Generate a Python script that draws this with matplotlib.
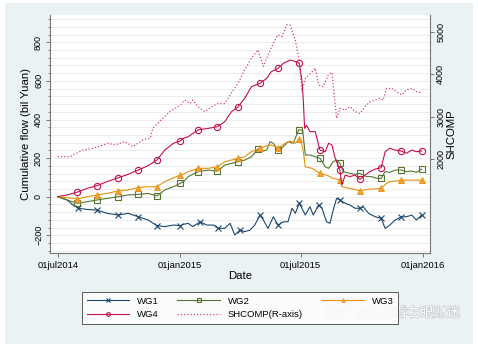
import numpy as np
import pandas as pd
import matplotlib
matplotlib.use('Agg')
import matplotlib.pyplot as plt
import matplotlib.patheffects as pe
from matplotlib.patches import Rectangle

plt.rcParams['font.family'] = ['Liberation Sans', 'DejaVu Sans']

start = pd.Timestamp('2014-07-01')

# days since 01jul2014
wg1_day = [0, 14, 23, 31, 44, 59, 74, 91, 106, 121, 136, 149, 161, 174, 184,
           189, 196, 203, 214, 224, 234, 241, 251, 259, 266, 274, 281, 289, 296, 304,
           309, 316, 324, 331, 339, 346, 352, 357, 363, 367, 372, 379, 384, 392, 397,
           404, 409, 414, 419, 424, 432, 439, 447, 454, 459, 467, 477, 486, 492, 499,
           507, 516, 524, 532, 539, 547]
wg1_val = [0, -17, -43, -60, -66, -69, -86, -95, -86, -104, -121, -150, -155, -147, -150,
           -143, -138, -155, -130, -147, -147, -164, -164, -138, -198, -173, -181, -173, -147, -95,
           -121, -164, -104, -147, -130, -130, -60, -86, -34, -60, -95, -52, -95, -43, -60,
           -130, -138, -69, -9, -17, -34, -43, -60, -60, -52, -86, -104, -112, -164, -147,
           -121, -104, -104, -95, -121, -95]

wg2_day = [0, 14, 29, 44, 59, 74, 91, 106, 121, 136, 149, 161, 174, 184, 189,
           196, 211, 226, 240, 251, 261, 271, 281, 291, 301, 309, 314, 319, 324, 331,
           339, 346, 354, 362, 368, 372, 379, 387, 394, 402, 407, 414, 419, 424, 429,
           439, 447, 454, 464, 472, 479, 486, 492, 499, 507, 516, 524, 532, 539, 547]
wg2_val = [0, -17, -34, -26, -17, -9, 0, 9, 12, 17, 4, 35, 52, 69, 78,
           104, 130, 138, 133, 164, 173, 181, 190, 207, 247, 237, 242, 285, 277, 242,
           259, 285, 277, 346, 346, 216, 216, 207, 199, 155, 147, 181, 190, 173, 130,
           121, 116, 121, 104, 104, 95, 95, 130, 126, 138, 138, 130, 133, 126, 143]

wg3_day = [0, 14, 29, 44, 59, 74, 91, 106, 121, 136, 149, 161, 174, 184, 189,
           196, 211, 226, 240, 251, 271, 281, 291, 304, 314, 321, 331, 342, 349, 357,
           363, 368, 372, 382, 394, 404, 414, 424, 427, 439, 454, 469, 486, 494, 499,
           516, 532, 547]
wg3_val = [0, -5, -12, 0, 9, 17, 30, 35, 47, 52, 52, 78, 98, 112, 116,
           130, 147, 147, 155, 181, 199, 207, 233, 251, 264, 268, 251, 277, 289, 277,
           299, 259, 155, 147, 121, 112, 95, 86, 52, 43, 31, 39, 43, 69, 78,
           86, 86, 86]

wg4_day = [0, 14, 29, 44, 59, 74, 91, 106, 121, 136, 149, 161, 174, 184, 189,
           196, 211, 226, 240, 251, 261, 271, 281, 291, 304, 314, 321, 331, 339, 349,
           357, 363, 367, 369, 371, 374, 379, 387, 394, 402, 407, 412, 417, 424, 427,
           432, 439, 447, 454, 462, 469, 477, 486, 492, 499, 507, 516, 524, 532, 539,
           547]
wg4_val = [0, 9, 23, 43, 57, 78, 98, 116, 138, 161, 190, 242, 277, 289, 303,
           311, 346, 354, 363, 389, 440, 466, 510, 570, 588, 613, 648, 665, 691, 708,
           700, 691, 600, 500, 354, 370, 337, 337, 242, 233, 277, 268, 199, 138, 61,
           112, 104, 112, 90, 112, 130, 143, 150, 233, 251, 242, 237, 225, 242, 233,
           237]

shcomp_day = [0, 18, 38, 53, 76, 86, 101, 113, 128, 139, 143, 158, 169, 184, 191,
              199, 203, 211, 221, 231, 241, 251, 259, 271, 281, 291, 301, 309, 314, 324,
              331, 337, 344, 349, 357, 362, 367, 372, 379, 387, 392, 399, 407, 412, 419,
              424, 432, 439, 447, 454, 462, 469, 477, 484, 489, 494, 502, 509, 517, 524,
              532, 539, 547]
shcomp_val = [2054, 2054, 2212, 2252, 2370, 2330, 2410, 2290, 2450, 2490, 2725, 2960, 3120, 3270, 3390,
              3310, 3390, 3230, 3115, 3230, 3310, 3310, 3510, 3785, 4100, 4375, 4570, 4180, 4375, 4730,
              4925, 4885, 5160, 5160, 4800, 4400, 3590, 3905, 4000, 4140, 3745, 3705, 4000, 4040, 2960,
              3195, 3155, 3235, 3115, 3075, 3235, 3350, 3390, 3430, 3390, 3665, 3665, 3590, 3510, 3630,
              3665, 3590, 3560]

mark_days = [29, 59, 91, 121, 149, 181, 211, 240, 271, 303, 331, 362, 394, 424, 454, 486, 516, 547]

xtick_dates = ['2014-07-01', '2015-01-01', '2015-07-01', '2016-01-01']
xtick_labels = ['01jul2014', '01jan2015', '01jul2015', '01jan2016']


def to_dates(days):
    return start + pd.to_timedelta(days, unit='D')


def marks(days):
    d = np.array(days)
    return sorted(set(int(np.argmin(np.abs(d - m))) for m in mark_days))


W, H = 478, 347
fig = plt.figure(figsize=(W / 100, H / 100), dpi=100)
fig.patch.set_facecolor('white')
fig.patches.append(Rectangle((5 / W, 3 / H), 468 / W, 341 / H, transform=fig.transFigure,
                             facecolor='#eaf2f3', edgecolor='none', zorder=-5))

ax = fig.add_axes([50 / W, 1 - 253 / H, 380 / W, 238 / H])
ax.set_facecolor('white')
ax2 = ax.twinx()

navy, green, orange, red = '#1a476f', '#55752f', '#e8900c', '#c5104a'
lw = 0.8

l1, = ax.plot(to_dates(wg1_day), wg1_val, color=navy, lw=lw, marker='x', ms=3.8, mew=0.8,
              markevery=marks(wg1_day), label='WG1')
l2, = ax.plot(to_dates(wg2_day), wg2_val, color=green, lw=lw, marker='s', ms=3.8, mew=0.8,
              mfc='none', markevery=marks(wg2_day), label='WG2')
l3, = ax.plot(to_dates(wg3_day), wg3_val, color=orange, lw=lw, marker='^', ms=4.2, mew=0.6,
              mfc='#f0a23a', markevery=marks(wg3_day), label='WG3')
l4, = ax.plot(to_dates(wg4_day), wg4_val, color=red, lw=lw, marker='o', ms=4.5, mew=0.8,
              mfc='none', markevery=marks(wg4_day), label='WG4')
l5, = ax2.plot(to_dates(shcomp_day), shcomp_val, color='#d4485f', lw=0.9, ls=(0, (1, 1.6)),
               label='SHCOMP(R-axis)')

# axes ranges
ax.set_xlim(start - pd.Timedelta(days=11.6), start + pd.Timedelta(days=559.4))
ax.set_ylim(-291.7, 941.5)
ax2.set_ylim(-215, 5394)

ax.set_xticks(pd.to_datetime(xtick_dates))
ax.set_xticklabels(xtick_labels)
ax.set_yticks(np.arange(-200, 801, 200))
ax.set_yticks(np.arange(-280, 941, 40), minor=True)
ax2.set_yticks([2000, 3000, 4000, 5000])

ax.grid(True, which='both', axis='y', color='#e9e9e9', lw=0.6)
ax.grid(False, axis='x')
ax.set_axisbelow(True)

spine_c = '#777777'
for a in (ax, ax2):
    for s in a.spines.values():
        s.set_visible(False)
ax.spines['left'].set_visible(True)
ax.spines['bottom'].set_visible(True)
ax2.spines['right'].set_visible(True)
for s in (ax.spines['left'], ax.spines['bottom'], ax2.spines['right']):
    s.set_color(spine_c)
    s.set_linewidth(0.8)

ax.tick_params(axis='x', which='major', length=3, width=0.7, color=spine_c, labelsize=6.8, pad=2.5)
ax.tick_params(axis='x', which='minor', length=0)
ax.tick_params(axis='y', which='major', length=3, width=0.7, color=spine_c, labelsize=6.5, pad=2)
ax.tick_params(axis='y', which='minor', length=1.6, width=0.6, color=spine_c)
ax2.tick_params(axis='y', which='major', length=3, width=0.7, color=spine_c, labelsize=6.5, pad=1.5)
for t in ax.get_yticklabels() + ax2.get_yticklabels():
    t.set_rotation(90)
    t.set_va('center')

ax.set_xlabel('Date', fontsize=8.2, labelpad=1)
ax.set_ylabel('Cumulative flow (bil Yuan)', fontsize=8.2, labelpad=2)
ax2.set_ylabel('SHCOMP', fontsize=8.2, labelpad=1)

leg = fig.legend([l1, l4, l2, l5, l3], ['WG1', 'WG4', 'WG2', 'SHCOMP(R-axis)', 'WG3'],
                 ncol=3, loc='center', bbox_to_anchor=(240 / W, 1 - 308 / H),
                 fontsize=6.8, frameon=True, fancybox=False, handlelength=4.5,
                 handletextpad=0.8, columnspacing=2.0, borderpad=0.5, labelspacing=0.5,
                 markerscale=0.6, numpoints=1)
leg.get_frame().set_edgecolor('#333333')
leg.get_frame().set_linewidth(0.7)
leg.get_frame().set_facecolor('white')

# watermark, lies partly over the legend box as in the source image
fig.text(393 / W, 1 - 312.5 / H, '知乎 @九龙看右眼财迷', fontsize=9.5, color='white',
         ha='center', va='center', family=['Noto Sans CJK SC', 'DejaVu Sans'],
         path_effects=[pe.withStroke(linewidth=1.0, foreground='#c3cbce')])

fig.savefig('out.png', dpi=100, facecolor=fig.get_facecolor())
